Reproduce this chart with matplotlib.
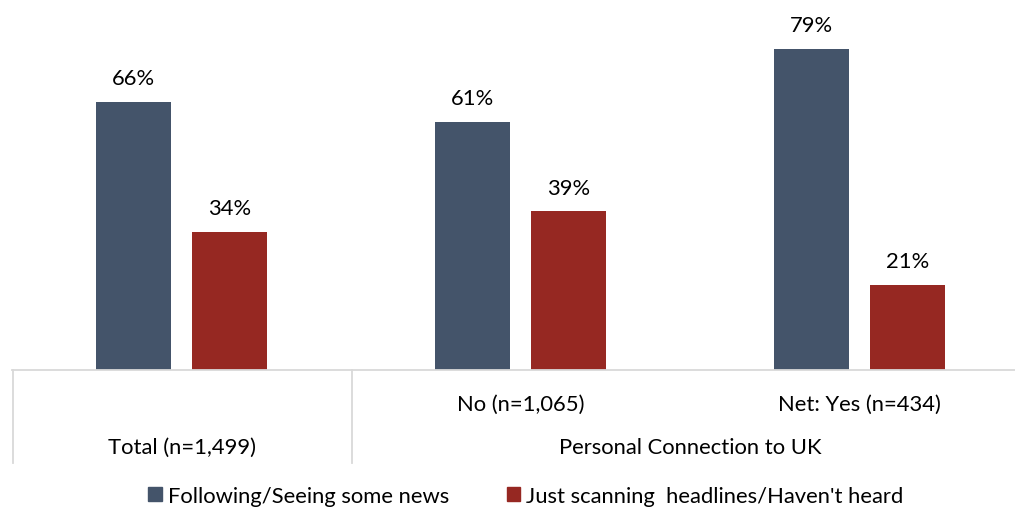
import matplotlib.pyplot as plt
from matplotlib.lines import Line2D
from matplotlib.patches import Patch
import numpy as np

plt.rcParams['font.family'] = ['Lato', 'DejaVu Sans']

groups = ['Total (n=1,499)', 'No (n=1,065)', 'Net: Yes (n=434)']
following = [66, 61, 79]
scanning = [34, 39, 21]
series_names = ['Following/Seeing some news', "Just scanning  headlines/Haven't heard"]
blue = '#44546A'
red = '#962822'
grid_col = '#D9D9D9'
fs = 15.8

W, H = 1015, 510
fig = plt.figure(figsize=(W / 100, H / 100), dpi=100)

# axes spans x 12..1029 px (last group runs off the right edge), baseline at y=371
x0, x1 = 12, 1029
y_base, y_top = 371, 5
ax = fig.add_axes([x0 / W, (H - y_base) / H, (x1 - x0) / W, (y_base - y_top) / H])

x = np.arange(len(groups))
bw = 0.221
off = 0.1416
b1 = ax.bar(x - off, following, bw, color=blue)
b2 = ax.bar(x + off, scanning, bw, color=red)
for bars in (b1, b2):
    for b in bars:
        ax.annotate('%d%%' % b.get_height(), (b.get_x() + b.get_width() / 2, b.get_height()),
                    xytext=(0, 17), textcoords='offset points', ha='center', va='center',
                    fontsize=fs, color='#000000')

ax.set_xlim(-0.5, 2.5)
ax.set_ylim(0, 90)
ax.axis('off')

def fx(px):
    return px / W
def fy(py):
    return 1 - py / H

# baseline and category separators
fig.add_artist(Line2D([fx(12), fx(1015)], [fy(371), fy(371)], color=grid_col, lw=1.3))
for px in (12.5, 352):
    fig.add_artist(Line2D([fx(px), fx(px)], [fy(371), fy(464)], color=grid_col, lw=1.3))

# category labels
def xc(i):
    return x0 + (i + 0.5) * (x1 - x0) / 3

fig.text(fx(xc(1)), fy(405), groups[1], ha='center', va='center', fontsize=fs)
fig.text(fx(xc(2)), fy(405), groups[2], ha='center', va='center', fontsize=fs)
fig.text(fx(xc(0)), fy(448), groups[0], ha='center', va='center', fontsize=fs)
fig.text(fx((352 + 1029) / 2), fy(448), 'Personal Connection to UK', ha='center', va='center', fontsize=fs)

handles = [Patch(color=blue), Patch(color=red)]
fig.legend(handles, series_names, loc='center', bbox_to_anchor=(fx(526), fy(497)), ncol=2,
           frameon=False, fontsize=fs, handlelength=0.6, handleheight=0.6,
           handletextpad=0.3, columnspacing=2.6, borderpad=0)

fig.savefig('out.png', dpi=100)
